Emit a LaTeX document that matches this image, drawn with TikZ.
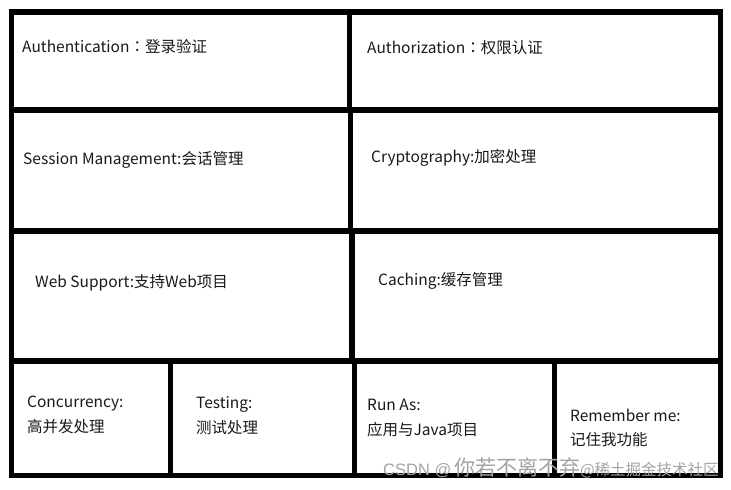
\documentclass[tikz,border=0pt]{standalone}
\usepackage{fontspec}
\setmainfont{Noto Sans CJK SC}
\newfontfamily\tccolon{Noto Sans CJK TC}
\newfontfamily\wmlat{Liberation Sans}
\newcommand{\fwcolon}{{\tccolon ：}}
\begin{document}
\begin{tikzpicture}[x=1pt,y=-1pt]
\tikzset{
  gridline/.style={line width=5.5pt,black},
  lbl/.style={anchor=base west,inner sep=0pt,font=\fontsize{15.5}{18}\selectfont,text=black!90},
  wm/.style={anchor=base west,inner sep=0pt,font=\fontsize{21}{22}\selectfont,text=black!36}
}
\useasboundingbox (0,0) rectangle (731,490);
\fill[white] (0,0) rectangle (731,490);
% grid
\draw[gridline] (11.5,12) rectangle (720.5,475.5);
\draw[gridline] (11.5,110) -- (720.5,110);
\draw[gridline] (11.5,231) -- (720.5,231);
\draw[gridline] (11.5,361) -- (720.5,361);
\draw[gridline] (349.5,12) -- (349.5,110);
\draw[gridline] (350.5,110) -- (350.5,231);
\draw[gridline] (352,231) -- (352,361);
\draw[gridline] (170.5,361) -- (170.5,475.5);
\draw[gridline] (354.5,361) -- (354.5,475.5);
\draw[gridline] (554.5,361) -- (554.5,475.5);
% labels
\node[lbl] (authn) at (22,52) {Authentication\fwcolon 登录验证};
\node[lbl] (authz) at (367,53) {Authorization\fwcolon 权限认证};
\node[lbl] (sess) at (23,164) {Session Management:会话管理};
\node[lbl] (crypt) at (371,162) {Cryptography:加密处理};
\node[lbl] (web) at (35,287) {Web Support:支持Web项目};
\node[lbl] (cach) at (378,285) {Caching:缓存管理};
\node[lbl] (conc) at (27,407) {Concurrency:};
\node[lbl] (conczh) at (27,432) {高并发处理};
\node[lbl] (test) at (196,408) {Testing:};
\node[lbl] (testzh) at (196,433) {测试处理};
\node[lbl] (runas) at (367,410) {Run As:};
\node[lbl] (runaszh) at (367,435) {应用与Java项目};
\node[lbl] (rem) at (570,421) {Remember me:};
\node[lbl] (remzh) at (570,445) {记住我功能};
% watermark
\node[wm] (wmark) at (383,475) {{\wmlat\fontsize{16.5}{18}\selectfont CSDN @\,}你若不离不弃{\fontsize{15.5}{18}\selectfont @稀土掘金技术社区}};
\end{tikzpicture}
\end{document}
